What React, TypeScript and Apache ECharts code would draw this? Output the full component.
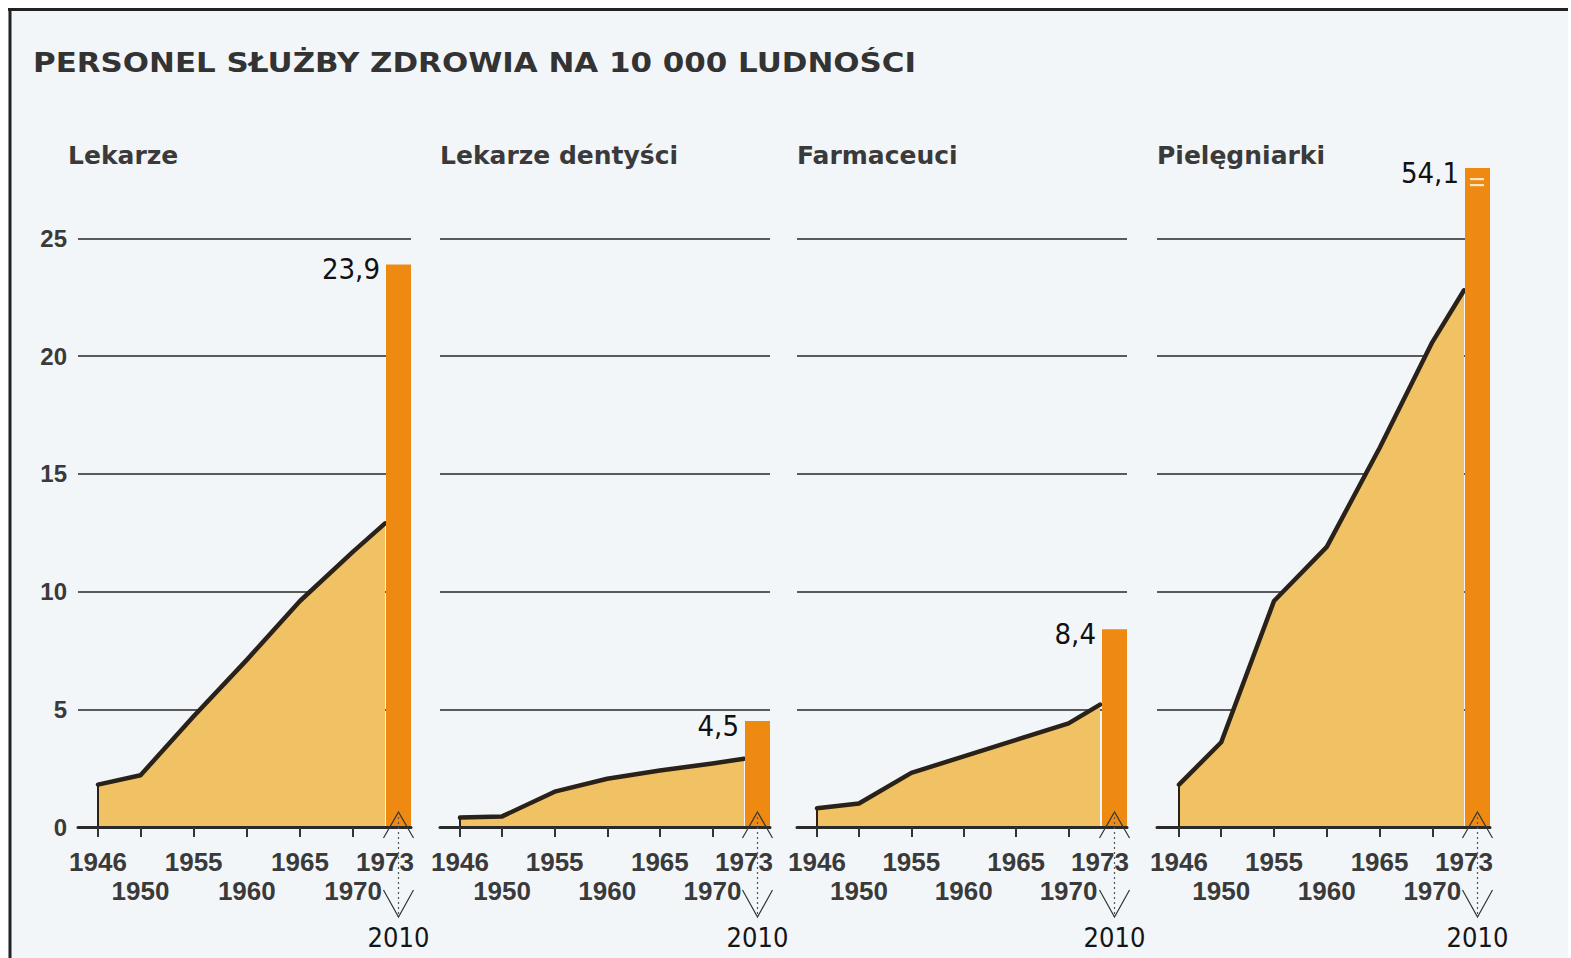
import React, { useEffect, useRef } from 'react';
import * as echarts from 'echarts';

// ---------- DATA ----------
const TITLE = 'PERSONEL SŁUŻBY ZDROWIA NA 10 000 LUDNOŚCI';
const PANEL_TITLES = ['Lekarze', 'Lekarze dentyści', 'Farmaceuci', 'Pielęgniarki'];
const YEARS = [1946, 1950, 1955, 1960, 1965, 1970, 1973];
const LEKARZE = [1.8, 2.2, 4.7, 7.1, 9.6, 11.7, 12.9];
const DENTYSCI = [0.4, 0.45, 1.5, 2.05, 2.4, 2.7, 2.9];
const FARMACEUCI = [0.8, 1.0, 2.3, 3.0, 3.7, 4.4, 5.2];
const PIELEGNIARKI = [1.8, 3.6, 9.6, 11.9, 16.1, 20.6, 22.8];
const SERIES_VALUES = [LEKARZE, DENTYSCI, FARMACEUCI, PIELEGNIARKI];
const BAR_CATEGORY = ['2010'];
const VALUES_2010 = [23.9, 4.5, 8.4, 54.1];
const TOP_ROW_YEARS = [1946, 1955, 1965, 1973];
const BOTTOM_ROW_YEARS = [1950, 1960, 1970];
const TICK_YEARS = [1946, 1950, 1955, 1960, 1965, 1970];
const Y_MIN = 0;
const Y_MAX = 25;
const Y_STEP = 5;

// ---------- LAYOUT (page px) ----------
const OFF = 8;
const Y_ZERO = 827;
const Y_TOP = 238.5;
const BAR_TOP = 168;
const LAYOUT = [
  { L: 78, x46: 98, x73: 385, barL: 386, barR: 411, titleX: 68 },
  { L: 440, x46: 460, x73: 744, barL: 745, barR: 770, titleX: 440 },
  { L: 797, x46: 817, x73: 1100, barL: 1102, barR: 1127, titleX: 797 },
  { L: 1157, x46: 1179, x73: 1464, barL: 1465, barR: 1490, titleX: 1157 },
];

const FILL = '#F0C264';
const LINE = '#2a2118';
const BAR = '#EE8A12';
const GRID = '#5a5a5a';
const TEXT = '#3a3a3a';
const NARROW = '"Liberation Sans Narrow", "DejaVu Sans Condensed", "Liberation Sans", sans-serif';
const BOLD = '"Liberation Sans", Arial, sans-serif';

function buildOption() {
  const ppu = (Y_ZERO - Y_TOP) / (Y_MAX - Y_MIN);
  const barAxisMax = (Y_ZERO - BAR_TOP) / ppu;
  const grid: any[] = [];
  const xAxis: any[] = [];
  const yAxis: any[] = [];
  const series: any[] = [];
  const graphic: any[] = [];

  LAYOUT.forEach((p) => {
    grid.push({ left: p.L - OFF, top: Y_TOP - OFF, width: p.barR - p.L, height: Y_ZERO - Y_TOP });
  });
  LAYOUT.forEach((p) => {
    grid.push({ left: p.barL - OFF, top: BAR_TOP - OFF, width: p.barR - p.barL, height: Y_ZERO - BAR_TOP });
  });

  LAYOUT.forEach((p, i) => {
    const ppy = (p.x73 - p.x46) / (YEARS[YEARS.length - 1] - YEARS[0]);
    const xmin = YEARS[0] - (p.x46 - p.L) / ppy;
    const xmax = YEARS[0] + (p.barR - p.x46) / ppy;
    const yearLabel = {
      fontFamily: BOLD,
      fontWeight: 'bold',
      fontSize: 26,
      color: TEXT,
    };
    xAxis.push({
      type: 'value',
      gridIndex: i,
      position: 'bottom',
      min: xmin,
      max: xmax,
      z: 5,
      axisLine: { show: true, onZero: false, lineStyle: { color: '#2a2a2a', width: 3 } },
      axisTick: { show: true, customValues: TICK_YEARS, length: 10, lineStyle: { color: '#333', width: 2 } },
      axisLabel: { show: true, customValues: TOP_ROW_YEARS, margin: 22, formatter: (v: number) => String(v), ...yearLabel },
      splitLine: { show: false },
    });
    xAxis.push({
      type: 'value',
      gridIndex: i,
      position: 'bottom',
      min: xmin,
      max: xmax,
      axisLine: { show: false },
      axisTick: { show: false },
      axisLabel: { show: true, customValues: BOTTOM_ROW_YEARS, margin: 51, formatter: (v: number) => String(v), ...yearLabel },
      splitLine: { show: false },
    });
    xAxis.push({
      type: 'category',
      gridIndex: 4 + i,
      data: BAR_CATEGORY,
      position: 'bottom',
      axisLine: { show: false },
      axisTick: { show: false },
      axisLabel: { show: true, margin: 97, fontFamily: NARROW, fontSize: 27, color: '#151515' },
      splitLine: { show: false },
    });

    yAxis.push({
      type: 'value',
      gridIndex: i,
      min: Y_MIN,
      max: Y_MAX,
      interval: Y_STEP,
      axisLine: { show: false },
      axisTick: { show: false },
      axisLabel: {
        show: i === 0,
        margin: 11,
        fontFamily: BOLD,
        fontWeight: 'bold',
        fontSize: 24,
        color: TEXT,
      },
      splitLine: { show: true, lineStyle: { color: GRID, width: 2 } },
    });
    yAxis.push({
      type: 'value',
      gridIndex: 4 + i,
      min: 0,
      max: barAxisMax,
      show: false,
      splitLine: { show: false },
    });

    const vals = SERIES_VALUES[i];
    series.push({
      type: 'line',
      xAxisIndex: 3 * i,
      yAxisIndex: 2 * i,
      data: YEARS.map((y, k) => [y, vals[k]]),
      symbol: 'none',
      z: 2,
      lineStyle: { color: LINE, width: 4.5, join: 'round', cap: 'round' },
      areaStyle: { color: FILL, opacity: 1 },
      markLine: {
        silent: true,
        symbol: ['none', 'none'],
        label: { show: false },
        lineStyle: { color: LINE, width: 2, type: 'solid' },
        data: [[{ coord: [YEARS[0], 0] }, { coord: [YEARS[0], vals[0]] }]],
      },
    });
    series.push({
      type: 'bar',
      xAxisIndex: 3 * i + 2,
      yAxisIndex: 2 * i + 1,
      data: [VALUES_2010[i]],
      barWidth: '100%',
      clip: true,
      z: 4,
      itemStyle: { color: BAR },
      label: {
        show: true,
        position: [-6, -10],
        align: 'right',
        verticalAlign: 'top',
        fontFamily: NARROW,
        fontSize: 29,
        color: '#111',
        formatter: (pr: any) => Number(pr.value).toFixed(1).replace('.', ','),
      },
    });

    // panel title
    graphic.push({
      type: 'text',
      x: p.titleX - OFF,
      y: 155 - OFF,
      z: 50,
      style: {
        text: PANEL_TITLES[i],
        fontFamily: '"DejaVu Sans", sans-serif',
        fontWeight: 'bold',
        fontSize: 25,
        fill: TEXT,
        align: 'left',
        verticalAlign: 'middle',
      },
    });

    // break marks under the 2010 bar
    const cx = (p.barL + p.barR) / 2 - OFF;
    graphic.push({
      type: 'polyline',
      z: 60,
      shape: { points: [[cx - 15, 838 - OFF], [cx, 812 - OFF], [cx + 15, 838 - OFF]] },
      style: { stroke: '#333', fill: 'none', lineWidth: 1.2 },
    });
    graphic.push({
      type: 'polyline',
      z: 60,
      shape: { points: [[cx - 15, 890 - OFF], [cx, 917 - OFF], [cx + 15, 890 - OFF]] },
      style: { stroke: '#333', fill: 'none', lineWidth: 1.2 },
    });
    graphic.push({
      type: 'line',
      z: 60,
      shape: { x1: cx, y1: 812 - OFF, x2: cx, y2: 917 - OFF },
      style: { stroke: '#555', lineWidth: 1.2, lineDash: [2, 3] },
    });
  });

  // break sign on the truncated bar
  const p4 = LAYOUT[3];
  [0, 6].forEach((dy) => {
    graphic.push({
      type: 'rect',
      z: 60,
      shape: { x: p4.barL + 5 - OFF, y: 178 + dy - OFF, width: 14, height: 2.2 },
      style: { fill: '#FBE3C4' },
    });
  });

  // main title
  graphic.push({
    type: 'text',
    x: 33 - OFF,
    y: 63 - OFF,
    scaleX: 1.145,
    z: 50,
    style: {
      text: TITLE,
      fontFamily: '"DejaVu Sans", sans-serif',
      fontWeight: 'bold',
      fontSize: 27,
      fill: '#333',
      align: 'left',
      verticalAlign: 'middle',
    },
  });

  // frame
  graphic.push({ type: 'line', z: 70, shape: { x1: 0, y1: 1.5, x2: 1560, y2: 1.5 }, style: { stroke: '#222', lineWidth: 3 } });
  graphic.push({ type: 'line', z: 70, shape: { x1: 2, y1: 0, x2: 2, y2: 950 }, style: { stroke: '#222', lineWidth: 3 } });

  return {
    animation: false,
    backgroundColor: '#F3F6F9',
    grid,
    xAxis,
    yAxis,
    series,
    graphic,
  };
}

export default function App() {
  const ref = useRef<HTMLDivElement>(null);
  useEffect(() => {
    if (!ref.current) return;
    const chart = echarts.init(ref.current, undefined, { renderer: 'svg' });
    chart.setOption(buildOption() as any);
    return () => chart.dispose();
  }, []);
  return (
    <div
      ref={ref}
      style={{ position: 'absolute', left: 8, top: 8, width: 1560, height: 950 }}
    />
  );
}
